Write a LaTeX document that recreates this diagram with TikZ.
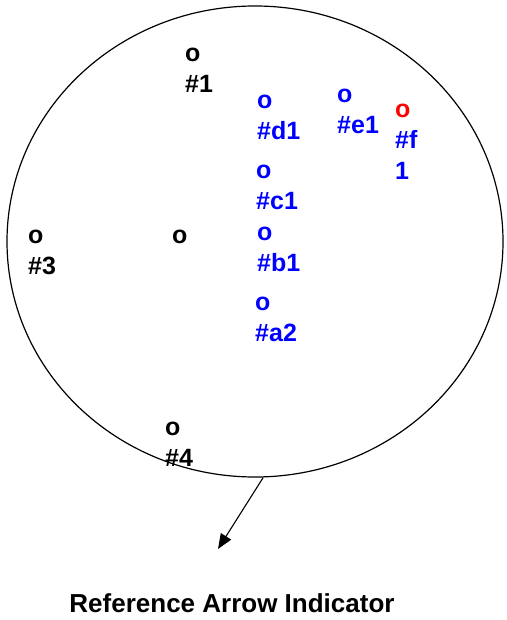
\documentclass[tikz,border=0pt]{standalone}
\usepackage{fontspec}
\setmainfont{Liberation Sans}
\usepackage{xcolor}
\usepackage{tikz}
\usetikzlibrary{shapes.geometric, arrows.meta}
\definecolor{MarkBlue}{HTML}{0000FF}
\definecolor{MarkRed}{HTML}{FF0000}

\begin{document}
\begin{tikzpicture}[x=1pt, y=-1pt,
    spot/.style={anchor=base west, inner sep=0pt, align=left,
      font=\fontsize{25}{31}\selectfont\bfseries}]
  \useasboundingbox (0,0) rectangle (506,620);
  % Dial outline
  \node[draw, ellipse, line width=1.2pt, inner sep=0pt,
    minimum width=496pt, minimum height=471pt] (dial) at (255,241.5) {};
  % Black points (anchored at the last line)
  \node[spot] (p1) at (185,93) {o\\\#1};
  \node[spot] (p3) at (28,274) {o\\\#3};
  \node[spot] (p0) at (172,243) {o};
  \node[spot] (p4) at (165,466) {o\\\#4};
  % Blue points
  \foreach \n/\x/\y in {d1/257/140, e1/337/134, c1/256/210, b1/257/271, a2/255/341} {
    \node[spot, MarkBlue] (\n) at (\x,\y) {o\\\#\n};
  }
  \node[spot, MarkBlue] (f1) at (395,180) {\textcolor{MarkRed}{o}\\\#f\\1};
  % Reference arrow
  \coordinate (tip) at (218,549);
  \draw[line width=1.1pt, -{Triangle[length=15pt, width=12pt]}] (dial.-88) -- (tip);
  \node[font=\fontsize{26}{31}\selectfont\bfseries, anchor=base] (caption) at (232,612)
    {Reference Arrow Indicator};
\end{tikzpicture}
\end{document}
